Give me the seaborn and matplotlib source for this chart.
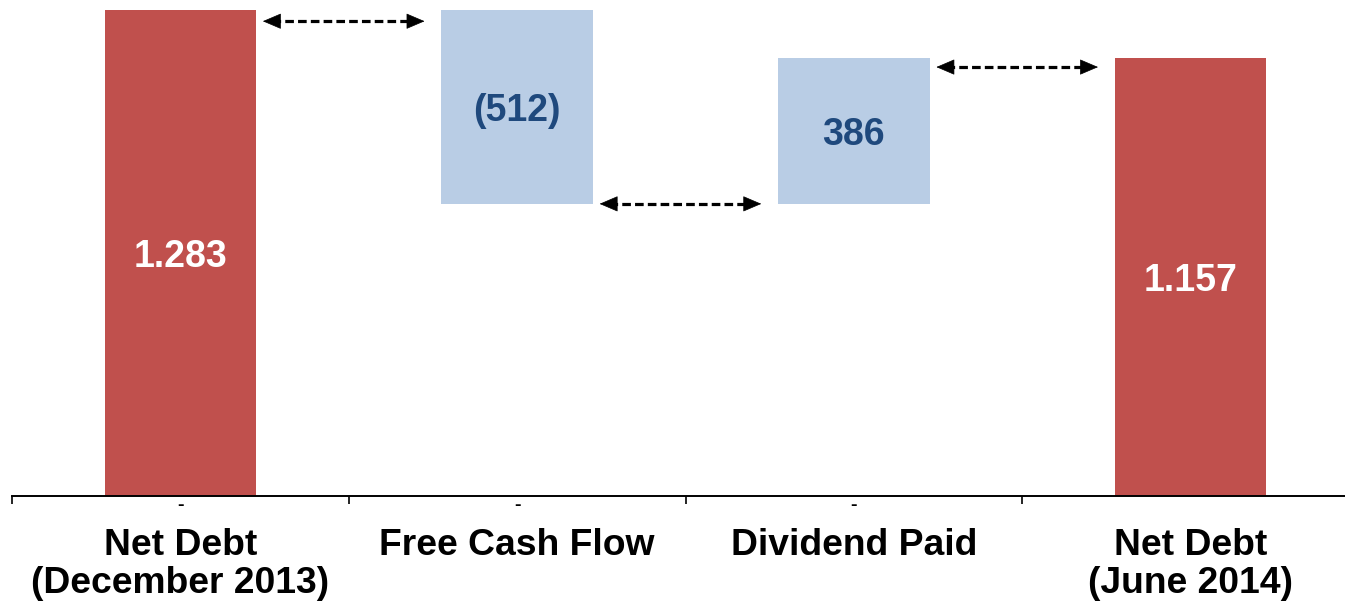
import matplotlib
matplotlib.use("Agg")
import matplotlib.pyplot as plt
import seaborn as sns
import numpy as np

# Net debt bridge, December 2013 -> June 2014
categories = ["Net Debt\n(December 2013)", "Free Cash Flow", "Dividend Paid", "Net Debt\n(June 2014)"]
changes = [1283, -512, 386, 1157]          # first and last are totals
is_total = [True, False, False, True]

RED = "#C0504D"
LIGHT_BLUE = "#B9CDE5"
DARK_BLUE = "#1F497D"

# Waterfall geometry: bar bottoms and heights from the running total
bottoms, heights, levels = [], [], []
running = 0
for v, tot in zip(changes, is_total):
    if tot:
        bottoms.append(0)
        heights.append(v)
        running = v
    else:
        start = running
        running = running + v
        bottoms.append(min(start, running))
        heights.append(abs(v))
    levels.append(running)


def fmt(v):
    s = f"{abs(v):,}".replace(",", ".")
    return f"({s})" if v < 0 else s


sns.set_theme(style="white")
plt.rcParams["font.family"] = ["Liberation Sans", "DejaVu Sans"]

fig = plt.figure(figsize=(13.45, 6.05), dpi=100)
ax = fig.add_axes([12 / 1345, 109 / 605, 1347 / 1345, 496 / 605])

sns.barplot(x=categories, y=heights, bottom=bottoms, width=0.45, color=RED,
            saturation=1, errorbar=None, ax=ax)
colors = [RED if t else LIGHT_BLUE for t in is_total]
for patch, c in zip(ax.patches, colors):
    patch.set_facecolor(c)
    patch.set_edgecolor("none")

ax.set_xlim(-0.5, len(categories) - 0.5)
ax.set_ylim(0, 1309)

# Value labels centred in each bar
for i, (b, h, v, t) in enumerate(zip(bottoms, heights, changes, is_total)):
    ax.text(i, b + h / 2, fmt(v), ha="center", va="center_baseline", fontsize=27,
            fontweight="bold", color="white" if t else DARK_BLUE)

# Dashed double-headed connectors between consecutive bars
arrow_offsets = [30, 0, 25]
x_start, x_end = 0.245, 0.725
head = 0.035            # head length in category units
head_style = dict(arrowstyle="-|>,head_length=0.75,head_width=0.32",
                  mutation_scale=16, color="black", lw=0.5,
                  shrinkA=0, shrinkB=0)
for i in range(len(categories) - 1):
    y = levels[i] - arrow_offsets[i]
    ax.plot([i + x_start + head * 0.8, i + x_end - head * 0.8], [y, y],
            color="black", lw=2.3, linestyle=(0, (2.7, 1.3)),
            solid_capstyle="butt", dash_capstyle="butt")
    ax.annotate("", xy=(i + x_start, y), xytext=(i + x_start + head, y),
                arrowprops=head_style)
    ax.annotate("", xy=(i + x_end, y), xytext=(i + x_end - head, y),
                arrowprops=head_style)

# Small dash marks under the first three categories
for i in range(3):
    ax.text(i, -0.002, "-", transform=ax.get_xaxis_transform(), ha="center",
            va="top", fontsize=14, fontweight="bold", color="black")

# Axes styling
for side in ["left", "right", "top"]:
    ax.spines[side].set_visible(False)
ax.spines["bottom"].set_color("black")
ax.spines["bottom"].set_linewidth(1.4)
ax.set_yticks([])
ax.set_ylabel("")
ax.set_xlabel("")
ax.set_xticks(np.arange(len(categories) + 1) - 0.5, minor=True)
ax.tick_params(axis="x", which="major", length=0, pad=23)
ax.tick_params(axis="x", which="minor", length=6, width=1.2, color="black",
               direction="out", bottom=True)
for lab in ax.get_xticklabels():
    lab.set_fontsize(26.8)
    lab.set_fontweight("bold")
    lab.set_color("black")
    lab.set_linespacing(1.1)

fig.savefig("out.png", dpi=100)
